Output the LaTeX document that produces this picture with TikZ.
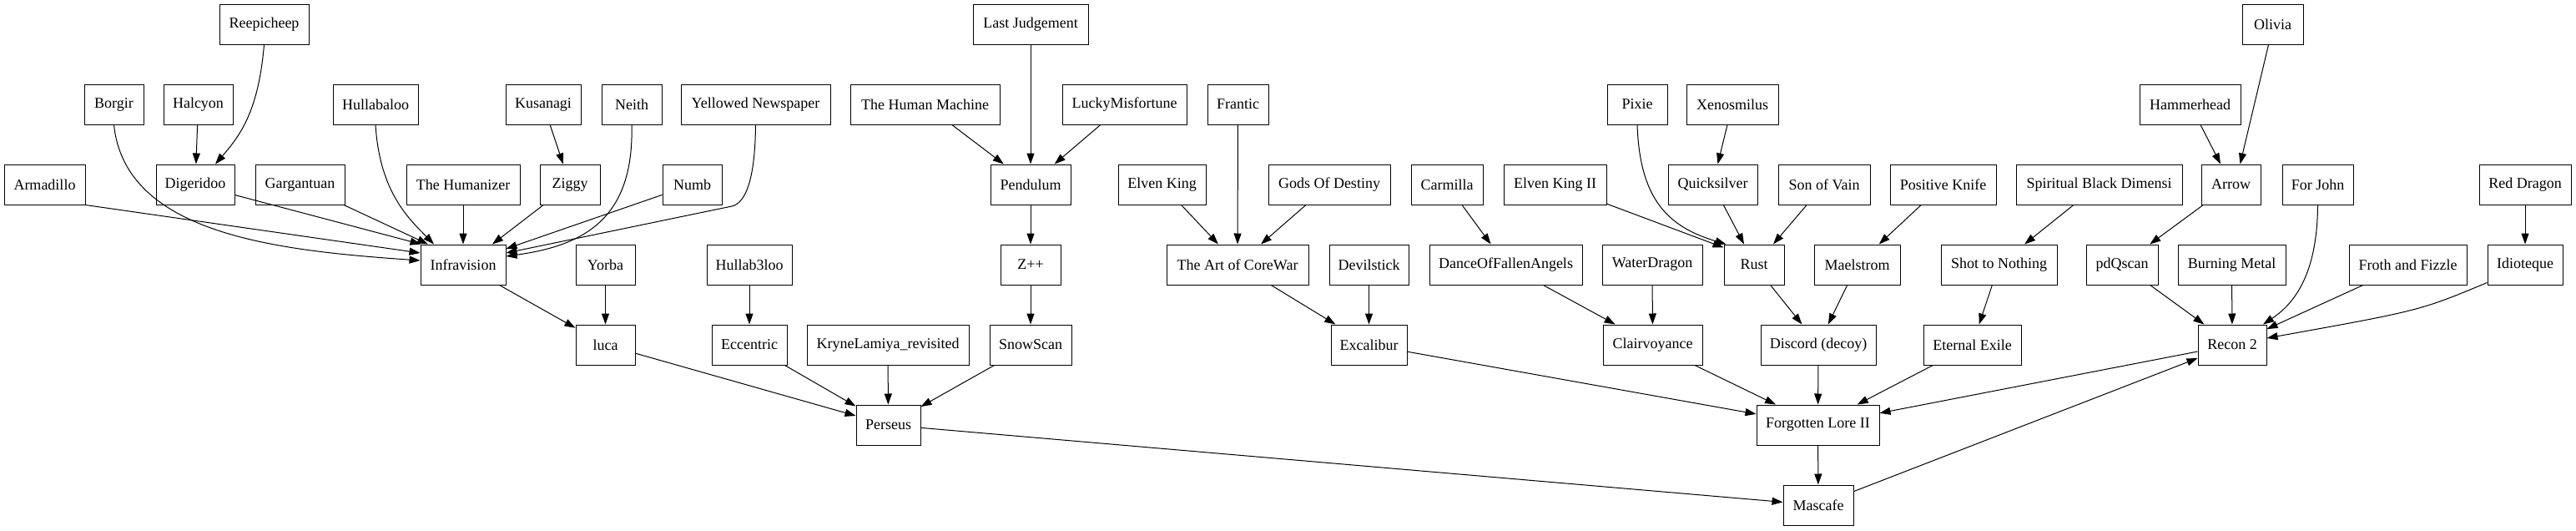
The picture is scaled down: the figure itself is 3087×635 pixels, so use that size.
\documentclass[tikz,border=0pt]{standalone}
\usepackage{fontspec}
\setmainfont{Liberation Serif}
\usetikzlibrary{arrows.meta}
\newcommand\gvfont{\fontsize{18}{21}\selectfont}
\tikzset{
  box/.style={draw, line width=1pt, minimum height=48pt, inner sep=0pt, font=\gvfont},
  arr/.style={-{Triangle[length=13pt,width=9pt]}, line width=1pt},
}
\begin{document}
\begin{tikzpicture}[x=1pt,y=-1pt]
\useasboundingbox (0,0) rectangle (3087,635);
% row 0
\node[box, minimum width=107pt] (reep) at (316.5,29) {Reepicheep};
\node[box, minimum width=138pt] (lastj) at (1235,29) {Last Judgement};
\node[box, minimum width=73pt] (olivia) at (2723.5,29) {Olivia};
% row 1
\node[box, minimum width=71pt] (borgir) at (136.5,125) {Borgir};
\node[box, minimum width=83pt] (halcyon) at (237.5,125) {Halcyon};
\node[box, minimum width=102pt] (hulla) at (450,125) {Hullabaloo};
\node[box, minimum width=90pt] (kusanagi) at (651,125) {Kusanagi};
\node[box, minimum width=72pt] (neith) at (757,125) {Neith};
\node[box, minimum width=179pt] (yellowed) at (905.5,125) {Yellowed Newspaper};
\node[box, minimum width=179pt] (humanm) at (1108.5,125) {The Human Machine};
\node[box, minimum width=149pt] (lucky) at (1347.5,125) {LuckyMisfortune};
\node[box, minimum width=73pt] (frantic) at (1483.5,125) {Frantic};
\node[box, minimum width=72pt] (pixie) at (1962,125) {Pixie};
\node[box, minimum width=110pt] (xeno) at (2076,125) {Xenosmilus};
\node[box, minimum width=121pt] (hammer) at (2624.5,125) {Hammerhead};
% row 2
\node[box, minimum width=97pt] (armadillo) at (53.5,221) {Armadillo};
\node[box, minimum width=94pt] (dig) at (234,221) {Digeridoo};
\node[box, minimum width=107pt] (garg) at (359.5,221) {Gargantuan};
\node[box, minimum width=136pt] (humanizer) at (555,221) {The Humanizer};
\node[box, minimum width=72pt] (ziggy) at (683,221) {Ziggy};
\node[box, minimum width=71pt] (numb) at (829.5,221) {Numb};
\node[box, minimum width=96pt] (pendulum) at (1235,221) {Pendulum};
\node[box, minimum width=105pt] (elven) at (1392.5,221) {Elven King};
\node[box, minimum width=146pt] (gods) at (1593,221) {Gods Of Destiny};
\node[box, minimum width=86pt] (carmilla) at (1734,221) {Carmilla};
\node[box, minimum width=123pt] (elven2) at (1863.5,221) {Elven King II};
\node[box, minimum width=107pt] (quick) at (2052.5,221) {Quicksilver};
\node[box, minimum width=110pt] (sonvain) at (2186,221) {Son of Vain};
\node[box, minimum width=127pt] (posknife) at (2328.5,221) {Positive Knife};
\node[box, minimum width=199pt] (spiritual) at (2515.5,221) {Spiritual Black Dimensi};
\node[box, minimum width=71pt] (arrow) at (2673.5,221) {Arrow};
\node[box, minimum width=85pt] (forjohn) at (2777.5,221) {For John};
\node[box, minimum width=110pt] (reddragon) at (3026,221) {Red Dragon};
% row 3
\node[box, minimum width=102pt] (infra) at (555,317) {Infravision};
\node[box, minimum width=71pt] (yorba) at (725.5,317) {Yorba};
\node[box, minimum width=102pt] (hullab) at (898,317) {Hullab3loo};
\node[box, minimum width=72pt] (zpp) at (1235,317) {Z++};
\node[box, minimum width=170pt] (artcw) at (1483,317) {The Art of CoreWar};
\node[box, minimum width=95pt] (devil) at (1640.5,317) {Devilstick};
\node[box, minimum width=183pt] (dance) at (1804.5,317) {DanceOfFallenAngels};
\node[box, minimum width=120pt] (water) at (1980,317) {WaterDragon};
\node[box, minimum width=72pt] (rust) at (2102,317) {Rust};
\node[box, minimum width=103pt] (mael) at (2225.5,317) {Maelstrom};
\node[box, minimum width=139pt] (shot) at (2395.5,317) {Shot to Nothing};
\node[box, minimum width=86pt] (pdq) at (2543,317) {pdQscan};
\node[box, minimum width=129pt] (burning) at (2674.5,317) {Burning Metal};
\node[box, minimum width=141pt] (froth) at (2885.5,317) {Froth and Fizzle};
\node[box, minimum width=90pt] (idio) at (3026,317) {Idioteque};
% row 4
\node[box, minimum width=71pt] (luca) at (725.5,413) {luca};
\node[box, minimum width=90pt] (ecc) at (898,413) {Eccentric};
\node[box, minimum width=194pt] (kryne) at (1064,413) {KryneLamiya\_revisited};
\node[box, minimum width=98pt] (snow) at (1235,413) {SnowScan};
\node[box, minimum width=91pt] (excal) at (1640.5,413) {Excalibur};
\node[box, minimum width=119pt] (clair) at (1980.5,413) {Clairvoyance};
\node[box, minimum width=138pt] (discord) at (2179,413) {Discord (decoy)};
\node[box, minimum width=117pt] (eternal) at (2363.5,413) {Eternal Exile};
\node[box, minimum width=82pt] (recon) at (2675,413) {Recon 2};
% row 5
\node[box, minimum width=77pt] (perseus) at (1064.5,509) {Perseus};
\node[box, minimum width=147pt] (forgotten) at (2178.5,509) {Forgotten Lore II};
% row 6
\node[box, minimum width=84pt] (mascafe) at (2179,605) {Mascafe};

% edges into Infravision
\draw[arr] (armadillo.south east) -- ([yshift=14pt]infra.west);
\draw[arr] (borgir.south) .. controls (150,280) and (330,300) .. ([yshift=5pt]infra.west);
\draw[arr] (dig) -- ([xshift=1pt]infra.north west);
\draw[arr] (garg) -- ([xshift=-42pt]infra.north);
\draw[arr] (hulla.south) .. controls (455,230) and (490,262) .. ([xshift=-35pt]infra.north);
\draw[arr] (humanizer) -- (infra);
\draw[arr] (ziggy) -- ([xshift=35pt]infra.north);
\draw[arr] (numb) -- ([yshift=19pt]infra.east);
\draw[arr] (neith.south) .. controls (760,262) and (700,294) .. ([yshift=10pt]infra.east);
\draw[arr] (yellowed.south) .. controls (905,210) and (895,243) .. (877,247) -- ([yshift=14pt]infra.east);
\draw[arr] (halcyon) -- (dig);
\draw[arr] (reep.south) .. controls (310,130) and (290,160) .. ([xshift=24pt]dig.north);
\draw[arr] (kusanagi) -- (ziggy);
% left group
\draw[arr] (infra) -- (luca);
\draw[arr] (yorba) -- (luca);
\draw[arr] (hullab) -- (ecc);
\draw[arr] (luca) -- (perseus);
\draw[arr] (ecc) -- (perseus);
\draw[arr] (kryne) -- (perseus);
\draw[arr] (snow) -- (perseus);
\draw[arr] (perseus) -- (mascafe);
% pendulum group
\draw[arr] (humanm) -- (pendulum);
\draw[arr] (lastj) -- (pendulum);
\draw[arr] (lucky) -- (pendulum);
\draw[arr] (pendulum) -- (zpp);
\draw[arr] (zpp) -- (snow);
% art of corewar group
\draw[arr] (elven) -- (artcw);
\draw[arr] (frantic) -- (artcw);
\draw[arr] (gods) -- (artcw);
\draw[arr] (artcw) -- (excal);
\draw[arr] (devil) -- (excal);
\draw[arr] (excal) -- (forgotten);
\draw[arr] (carmilla) -- (dance);
\draw[arr] (dance) -- (clair);
\draw[arr] (water) -- (clair);
\draw[arr] (clair) -- (forgotten);
% rust group
\draw[arr] (elven2) -- ([yshift=-4pt]rust.north west);
\draw[arr] (pixie.south) .. controls (1965,240) and (2000,272) .. ([xshift=3pt]rust.north west);
\draw[arr] (xeno) -- (quick);
\draw[arr] (quick) -- ([xshift=-12pt]rust.north);
\draw[arr] (sonvain) -- ([xshift=23pt]rust.north);
\draw[arr] (rust) -- (discord);
\draw[arr] (posknife) -- (mael);
\draw[arr] (mael) -- (discord);
\draw[arr] (discord) -- (forgotten);
\draw[arr] (spiritual) -- (shot);
\draw[arr] (shot) -- (eternal);
\draw[arr] (eternal) -- (forgotten);
\draw[arr] (forgotten) -- (mascafe);
\draw[arr] (recon) -- (forgotten);
\draw[arr] (mascafe) -- (recon);
% recon group
\draw[arr] (hammer) -- (arrow);
\draw[arr] ([xshift=-5pt]olivia.south) -- ([xshift=11pt]arrow.north);
\draw[arr] (arrow) -- (pdq);
\draw[arr] (pdq) -- (recon);
\draw[arr] (burning) -- (recon);
\draw[arr] (forjohn.south) .. controls (2777,320) and (2755,360) .. ([xshift=37pt]recon.north);
\draw[arr] (froth) -- (recon);
\draw[arr] (reddragon) -- (idio);
\draw[arr] ([yshift=3pt]idio.south west) .. controls (2900,372) .. ([yshift=8pt]recon.east);
\end{tikzpicture}
\end{document}
